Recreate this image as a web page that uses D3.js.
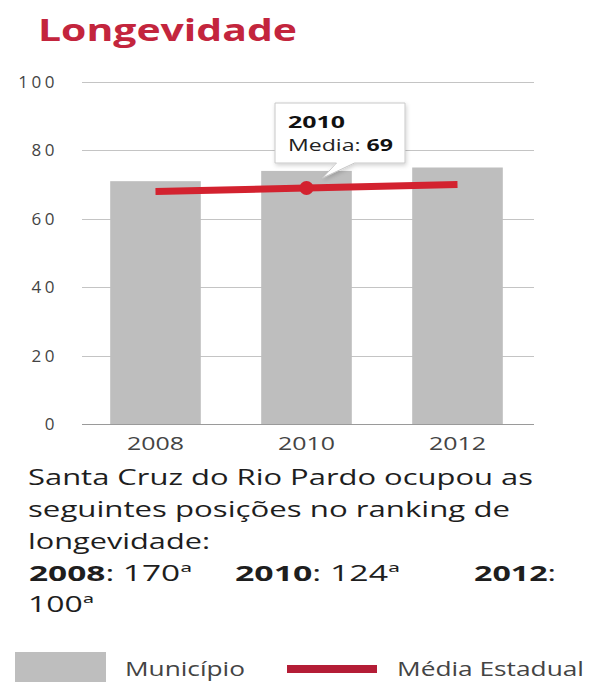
<!DOCTYPE html>
<html>
<head>
<meta charset="utf-8">
<script src="https://cdn.jsdelivr.net/npm/d3@7/dist/d3.min.js"></script>
<style>
  html, body { margin: 0; padding: 0; background: #fff; }
  svg { display: block; font-family: "Open Sans", "DejaVu Sans", sans-serif; }
</style>
</head>
<body>
<svg id="chart" width="590" height="682"></svg>
<script>
// Longevity index for Santa Cruz do Rio Pardo vs. state average
const years = ["2008", "2010", "2012"];
const municipio = [71, 74, 75];
const mediaEstadual = [68, 69, 70];
const yTicks = [0, 20, 40, 60, 80, 100];
const highlightYear = "2010";
const rankings = [
  { year: "2008", pos: "170ª" },
  { year: "2010", pos: "124ª" },
  { year: "2012", pos: "100ª" }
];

const svg = d3.select("#chart");

const x = d3.scaleBand().domain(years).range([80, 533]).paddingInner(0.4).paddingOuter(0.2);
const y = d3.scaleLinear().domain([0, 100]).range([424, 82]);

// Title
svg.append("text")
  .attr("x", 38).attr("y", 41)
  .attr("fill", "#c3253d")
  .attr("font-size", 31).attr("font-weight", 700)
  .attr("textLength", 259).attr("lengthAdjust", "spacingAndGlyphs")
  .text("Longevidade");

// Grid lines
svg.append("g").selectAll("line").data(yTicks).join("line")
  .attr("x1", 82).attr("x2", 534)
  .attr("y1", d => Math.round(y(d)) + 0.5).attr("y2", d => Math.round(y(d)) + 0.5)
  .attr("stroke", d => d === 0 ? "#9a9a9a" : "#c4c4c4")
  .attr("stroke-width", 1);

// Y tick labels
svg.append("g").selectAll("text").data(yTicks).join("text")
  .attr("x", 58).attr("y", d => y(d) + 6)
  .attr("text-anchor", "end")
  .attr("font-size", 17).attr("fill", "#444")
  .attr("letter-spacing", 3.5)
  .text(d => d);

// Bars
svg.append("g").selectAll("rect").data(years).join("rect")
  .attr("x", d => x(d)).attr("width", x.bandwidth())
  .attr("y", (d, i) => y(municipio[i]))
  .attr("height", (d, i) => y(0) - y(municipio[i]))
  .attr("fill", "#bebebe");

// X labels
svg.append("g").selectAll("text").data(years).join("text")
  .attr("x", d => x(d) + x.bandwidth() / 2 - 28.5).attr("y", 450)
  .attr("font-size", 18).attr("fill", "#444")
  .attr("textLength", 57).attr("lengthAdjust", "spacingAndGlyphs")
  .text(d => d);

// State average line
const cx = d => x(d) + x.bandwidth() / 2;
const line = d3.line().x((d, i) => cx(years[i])).y(d => y(d));
svg.append("path")
  .datum(mediaEstadual)
  .attr("d", line)
  .attr("fill", "none")
  .attr("stroke", "#d3222f")
  .attr("stroke-width", 7);

const hi = years.indexOf(highlightYear);
svg.append("circle")
  .attr("cx", cx(highlightYear)).attr("cy", y(mediaEstadual[hi]))
  .attr("r", 7)
  .attr("fill", "#d3222f");

// Callout for the highlighted year
const px = cx(highlightYear), py = y(mediaEstadual[hi]);
const bx0 = 275, bx1 = 405, by0 = 103, by1 = 163;
const tail = `M${bx0},${by0} H${bx1} V${by1} H${px + 48} L${px + 16},${py - 10} L${px + 30},${by1} H${bx0} Z`;
const defs = svg.append("defs");
const f = defs.append("filter").attr("id", "sh").attr("x", -0.2).attr("y", -0.2).attr("width", 1.4).attr("height", 1.5);
f.append("feDropShadow").attr("dx", 1).attr("dy", 2).attr("stdDeviation", 2).attr("flood-color", "#000").attr("flood-opacity", 0.18);
svg.append("path")
  .attr("d", tail)
  .attr("fill", "#fff")
  .attr("stroke", "#c8c8c8")
  .attr("stroke-width", 1)
  .attr("filter", "url(#sh)");
svg.append("text")
  .attr("x", 288).attr("y", 128)
  .attr("font-size", 16).attr("font-weight", 700).attr("fill", "#111")
  .attr("textLength", 57).attr("lengthAdjust", "spacingAndGlyphs")
  .text(highlightYear);
const t2 = svg.append("text")
  .attr("x", 288).attr("y", 151)
  .attr("font-size", 16).attr("fill", "#222")
  .attr("textLength", 105).attr("lengthAdjust", "spacingAndGlyphs");
t2.append("tspan").text("Media: ");
t2.append("tspan").attr("font-weight", 700).attr("fill", "#111").text(mediaEstadual[hi]);

// Description text
const desc = svg.append("g").attr("fill", "#1e1e1e").attr("font-size", 21);
const lines = [
  { t: "Santa Cruz do Rio Pardo ocupou as", y: 485, w: 505 },
  { t: "seguintes posições no ranking de", y: 517, w: 482 },
  { t: "longevidade:", y: 549, w: 182 }
];
lines.forEach(l => {
  desc.append("text").attr("x", 28).attr("y", l.y)
    .attr("textLength", l.w).attr("lengthAdjust", "spacingAndGlyphs")
    .text(l.t);
});
const rankX = [29, 235, 474];
const rankW = [163, 165, 82];
rankings.forEach((r, i) => {
  const t = desc.append("text").attr("x", rankX[i]).attr("y", 581)
    .attr("textLength", rankW[i]).attr("lengthAdjust", "spacingAndGlyphs");
  t.append("tspan").attr("font-weight", 700).text(r.year);
  t.append("tspan").text(i < 2 ? ": " + r.pos : ":");
});
desc.append("text").attr("x", 28).attr("y", 612)
  .attr("textLength", 66).attr("lengthAdjust", "spacingAndGlyphs")
  .text(rankings[2].pos);

// Legend
const lg = svg.append("g");
lg.append("rect").attr("x", 15).attr("y", 652).attr("width", 91).attr("height", 32).attr("fill", "#bebebe");
lg.append("text").attr("x", 125).attr("y", 676).attr("font-size", 20).attr("fill", "#444")
  .attr("textLength", 120).attr("lengthAdjust", "spacingAndGlyphs").text("Município");
lg.append("rect").attr("x", 287).attr("y", 665).attr("width", 90).attr("height", 8).attr("fill", "#b41d36");
lg.append("text").attr("x", 397).attr("y", 676).attr("font-size", 20).attr("fill", "#444")
  .attr("textLength", 187).attr("lengthAdjust", "spacingAndGlyphs").text("Média Estadual");
</script>
</body>
</html>
